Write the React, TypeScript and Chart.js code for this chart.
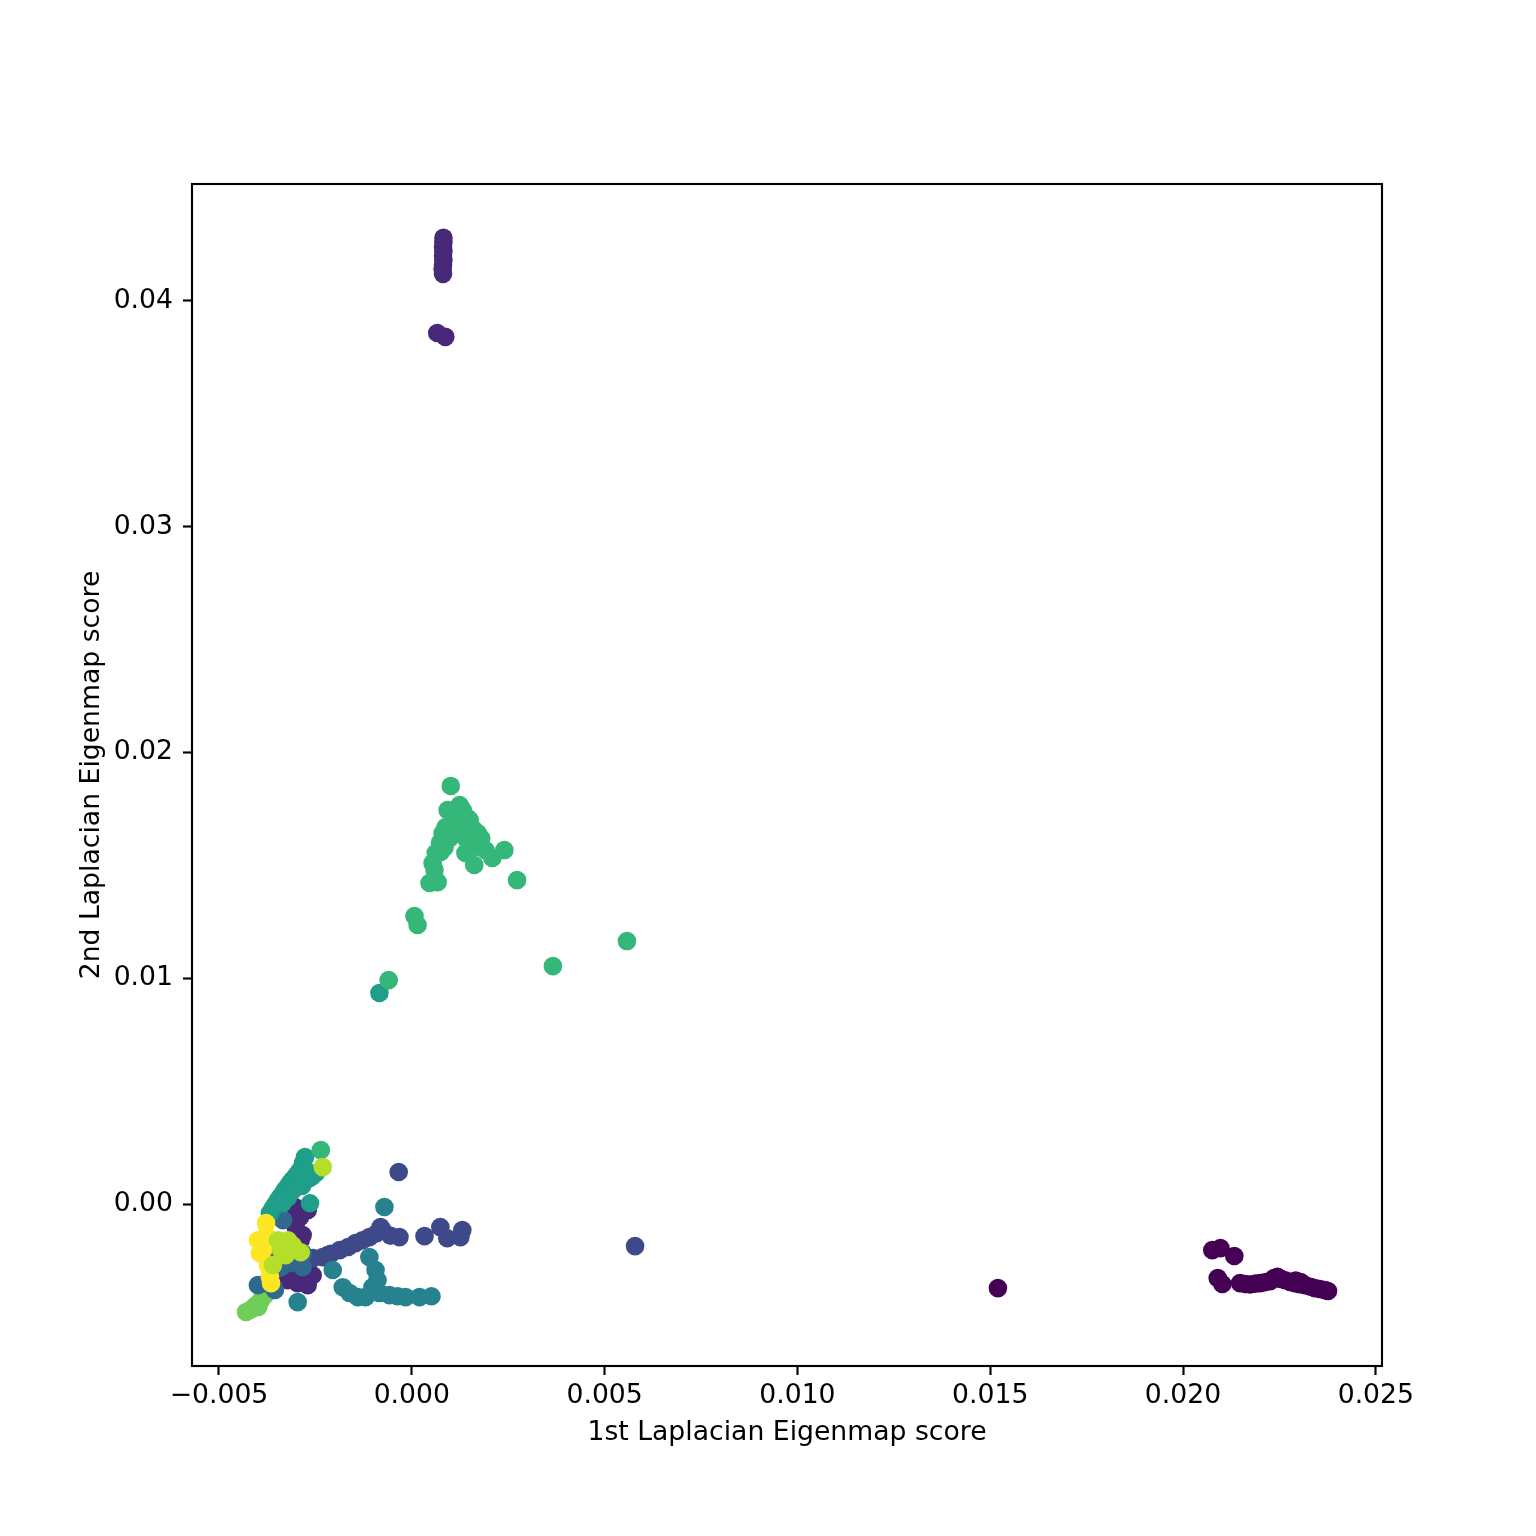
import React, { useEffect, useRef } from "react";
import { Chart, registerables } from "chart.js";

Chart.register(...registerables);

// Axis ticks
const xTicks = [-0.005, 0, 0.005, 0.01, 0.015, 0.02, 0.025];
const yTicks = [0, 0.01, 0.02, 0.03, 0.04];

const xLabel = "1st Laplacian Eigenmap score";
const yLabel = "2nd Laplacian Eigenmap score";

// Cluster colours (viridis, 10 levels)
const clusterColors = [
  "#440154", "#482878", "#3e4989", "#31688e", "#26828e",
  "#1f9e89", "#35b779", "#6ece58", "#b5de2b", "#fde725",
];

// Painting order of clusters (first = bottom layer)
const paintOrder = [7, 0, 1, 2, 3, 4, 5, 6, 9, 8];

// Points per cluster: [1st score, 2nd score]
const cluster0: [number, number][] = [
  [0.0152, -0.00372], [0.02076, -0.00204], [0.02097, -0.00195], [0.02133, -0.0023],
  [0.0209, -0.00328], [0.02102, -0.00354], [0.02148, -0.0035], [0.02162, -0.00354],
  [0.02174, -0.00356], [0.02188, -0.00352], [0.022, -0.0035], [0.02212, -0.00346],
  [0.02226, -0.00341], [0.02236, -0.00328], [0.02245, -0.00322], [0.02255, -0.00332],
  [0.02265, -0.00337], [0.02278, -0.00345], [0.0229, -0.0035], [0.02302, -0.00355],
  [0.02316, -0.00359], [0.0233, -0.00366], [0.02342, -0.00372], [0.02355, -0.00376],
  [0.02368, -0.00381], [0.02376, -0.00385], [0.02292, -0.00338], [0.02305, -0.00345],
];

const cluster1: [number, number][] = [
  [0.00082, 0.0428], [0.00082, 0.0426], [0.00081, 0.0424], [0.00082, 0.0422],
  [0.00081, 0.042], [0.00082, 0.0418], [0.00081, 0.0416], [0.0008, 0.0414],
  [0.00081, 0.0412], [0.00066, 0.03858], [0.00087, 0.03841],
  [-0.00303, -0.00013], [-0.0029, -0.00058], [-0.00301, -0.00102], [-0.00288, -0.00159],
  [-0.0029, -0.00226], [-0.00309, -0.00283], [-0.00283, -0.00315], [-0.00262, -0.00319],
  [-0.00322, -0.00337], [-0.00296, -0.0035], [-0.0027, -0.00027], [-0.00283, -0.00137],
  [-0.0027, -0.00359], [-0.00257, -0.00315],
];

const cluster2: [number, number][] = [
  [-0.00231, -0.00235], [-0.0021, -0.0022], [-0.00187, -0.00204], [-0.00165, -0.0019],
  [-0.00146, -0.00173], [-0.00128, -0.0016], [-0.0011, -0.00146], [-0.00092, -0.0013],
  [-0.00076, -0.00115], [-0.00081, -0.00102], [-0.00055, -0.0014], [-0.00032, -0.00146],
  [0.00033, -0.00142], [0.00074, -0.00102], [0.00092, -0.00151], [0.00131, -0.00115],
  [0.00126, -0.00146], [-0.00034, 0.00142], [0.00579, -0.00186], [-0.0026, -0.0024],
  [-0.0028, -0.0023], [-0.00256, -0.00239], [-0.00218, -0.00226],
];

const cluster3: [number, number][] = [
  [-0.00334, -0.00071], [-0.00316, -0.00261], [-0.00283, -0.00217], [-0.00378, -0.0035],
  [-0.0036, -0.00292], [-0.00399, -0.00359], [-0.00347, -0.00226], [-0.00365, -0.0031],
  [-0.0034, -0.0028], [-0.00283, -0.00279], [-0.00355, -0.0038],
];

const cluster4: [number, number][] = [
  [-0.00205, -0.00292], [-0.00179, -0.00368], [-0.00161, -0.00394], [-0.0014, -0.00412],
  [-0.0012, -0.00412], [-0.00102, -0.00368], [-0.00094, -0.00292], [-0.00089, -0.00337],
  [-0.0011, -0.00235], [-0.00084, -0.00394], [-0.00058, -0.00403], [-0.00037, -0.00408],
  [-0.00016, -0.00412], [0.0002, -0.00412], [0.00051, -0.00408], [-0.00296, -0.00434],
  [-0.00071, -0.00013],
];

const cluster5: [number, number][] = [
  [-0.00084, 0.00935], [-0.00368, -0.0004], [-0.00361, -0.0002], [-0.00355, -0.00004],
  [-0.00348, 0.00014], [-0.00342, 0.0003], [-0.00335, 0.00046], [-0.00329, 0.00062],
  [-0.00322, 0.00078], [-0.00316, 0.00093], [-0.0031, 0.00106], [-0.00303, 0.0012],
  [-0.00296, 0.00135], [-0.0029, 0.0015], [-0.00282, 0.00182], [-0.00277, 0.00208],
  [-0.00249, 0.00137], [-0.00264, 0.00004], [-0.0027, 0.0011], [-0.0026, 0.0012],
  [-0.00285, 0.0008], [-0.00321, 0.0003], [-0.00308, 0.00062], [-0.00296, 0.00093],
  [-0.00283, 0.00128], [-0.0027, 0.00142], [-0.00335, 0.00004],
];

const cluster6: [number, number][] = [
  [0.00101, 0.01852], [0.00093, 0.01745], [0.00124, 0.01767], [0.00132, 0.01745],
  [0.0015, 0.01701], [0.00171, 0.01643], [0.00088, 0.0167], [0.0008, 0.01643],
  [0.00073, 0.016], [0.00062, 0.01555], [0.00054, 0.0151], [0.00059, 0.0148],
  [0.00046, 0.01422], [0.00067, 0.01426], [0.00139, 0.01555], [0.00162, 0.01502],
  [0.00209, 0.01533], [0.0024, 0.01568], [0.00191, 0.01568], [0.00273, 0.01435],
  [0.00007, 0.01276], [0.00015, 0.01236], [-0.0006, 0.00992], [0.00366, 0.01054],
  [0.00558, 0.01165], [-0.00236, 0.00239], [0.00105, 0.0172], [0.00115, 0.0168],
  [0.0012, 0.0164], [0.00098, 0.0162], [0.0014, 0.0162], [0.0016, 0.0158],
  [0.00085, 0.0158], [0.00075, 0.0156], [0.0011, 0.0173], [0.00125, 0.0175],
  [0.00145, 0.0171], [0.0016, 0.0166], [0.0018, 0.0162],
];

const cluster7: [number, number][] = [
  [-0.0042, -0.0047], [-0.00404, -0.00447], [-0.00391, -0.00425], [-0.00381, -0.00403],
  [-0.00373, -0.00381], [-0.00412, -0.0046], [-0.0043, -0.00478], [-0.00398, -0.00455],
];

const cluster8: [number, number][] = [
  [-0.00334, -0.00173], [-0.00339, -0.00204], [-0.00321, -0.0016], [-0.0036, -0.0027],
  [-0.00231, 0.00164], [-0.00288, -0.00213], [-0.00347, -0.0016], [-0.00327, -0.00226],
  [-0.00309, -0.00182],
];

const cluster9: [number, number][] = [
  [-0.00386, -0.00204], [-0.00378, -0.00084], [-0.00368, -0.00323], [-0.00394, -0.00217],
  [-0.00378, -0.00137], [-0.00373, -0.0027], [-0.00365, -0.0035], [-0.0036, -0.0016],
  [-0.00399, -0.0016],
];

const clusters = [
  cluster0, cluster1, cluster2, cluster3, cluster4,
  cluster5, cluster6, cluster7, cluster8, cluster9,
];

const X_MIN = -0.0057;
const X_MAX = 0.02516;
const Y_MIN = -0.00717;
const Y_MAX = 0.04518;

const FONT = "'DejaVu Sans', sans-serif";
const FS = 26.67;

export default function App() {
  const ref = useRef<HTMLCanvasElement>(null);

  useEffect(() => {
    if (!ref.current) return;
    const frame = {
      id: "frame",
      afterDatasetsDraw(chart: any) {
        const { ctx, chartArea } = chart;
        const { left, top, right, bottom } = chartArea;
        ctx.save();
        ctx.strokeStyle = "#000";
        ctx.lineWidth = 2.13;
        ctx.strokeRect(left, top, right - left, bottom - top);
        ctx.restore();
      },
    };

    const chart = new Chart(ref.current, {
      type: "scatter",
      data: {
        datasets: clusters.map((pts, i) => ({
          label: "cluster " + i,
          data: pts.map(([x, y]) => ({ x, y })),
          backgroundColor: clusterColors[i],
          borderWidth: 0,
          pointRadius: 9.3,
          pointHoverRadius: 9.3,
          order: clusters.length - paintOrder.indexOf(i),
        })),
      },
      options: {
        responsive: false,
        animation: false,
        events: [],
        layout: { padding: { left: 0, top: 184, right: 154, bottom: 0 } },
        plugins: {
          legend: { display: false },
          tooltip: { enabled: false },
        },
        scales: {
          x: {
            type: "linear",
            min: X_MIN,
            max: X_MAX,
            afterFit: (s: any) => {
              s.height = 170;
            },
            afterBuildTicks: (s: any) => {
              s.ticks = xTicks.map((v) => ({ value: v }));
            },
            grid: {
              display: true,
              drawOnChartArea: false,
              drawTicks: true,
              tickLength: 9,
              tickWidth: 2.13,
              tickColor: "#000",
            },
            border: { display: false },
            ticks: {
              color: "#000",
              font: { family: FONT, size: FS },
              padding: 5,
              maxRotation: 0,
              autoSkip: false,
              callback: (v: any) => {
                const s = Number(v).toFixed(3);
                return s.replace("-", "\u2212");
              },
            },
            title: {
              display: true,
              text: xLabel,
              color: "#000",
              font: { family: FONT, size: FS },
              padding: { top: 0, bottom: 87 },
            },
          },
          y: {
            type: "linear",
            min: Y_MIN,
            max: Y_MAX,
            afterFit: (s: any) => {
              s.width = 192;
            },
            afterBuildTicks: (s: any) => {
              s.ticks = yTicks.map((v) => ({ value: v }));
            },
            grid: {
              display: true,
              drawOnChartArea: false,
              drawTicks: true,
              tickLength: 9,
              tickWidth: 2.13,
              tickColor: "#000",
            },
            border: { display: false },
            ticks: {
              color: "#000",
              font: { family: FONT, size: FS },
              padding: 10,
              autoSkip: false,
              callback: (v: any) => Number(v).toFixed(2).replace("-", "\u2212"),
            },
            title: {
              display: true,
              text: yLabel,
              color: "#000",
              font: { family: FONT, size: FS },
              padding: { top: 76, bottom: 0 },
            },
          },
        },
      },
      plugins: [frame],
    });

    return () => chart.destroy();
  }, []);

  return (
    <div
      style={{
        position: "fixed",
        left: 0,
        top: 0,
        width: 1536,
        height: 1536,
        background: "#fff",
      }}
    >
      <canvas
        ref={ref}
        width={1536}
        height={1536}
        style={{ width: 1536, height: 1536, display: "block" }}
      />
    </div>
  );
}
